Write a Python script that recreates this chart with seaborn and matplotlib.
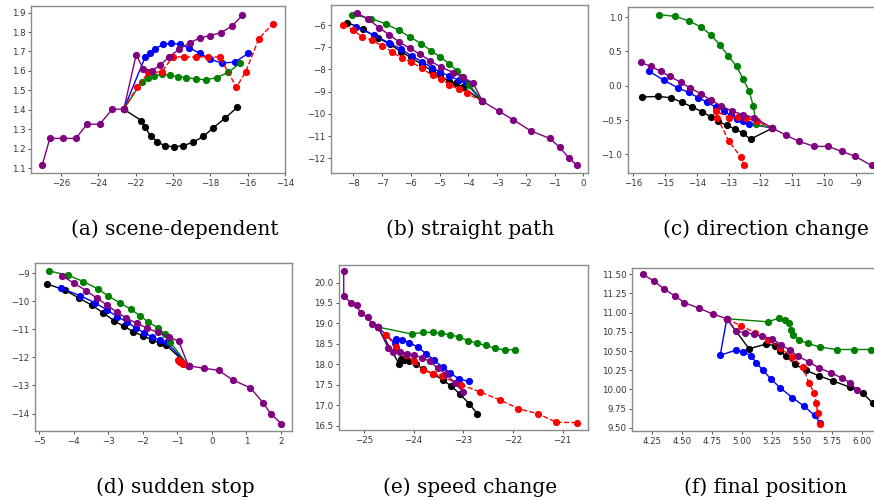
import numpy as np
import pandas as pd
import seaborn as sns
import matplotlib
matplotlib.use("Agg")
import matplotlib.pyplot as plt

# (a) scene-dependent
a_hist_x = [-27.0, -26.59, -25.91, -25.2, -24.6, -23.92, -23.25, -22.63]
a_hist_y = [1.116, 1.253, 1.253, 1.253, 1.326, 1.326, 1.403, 1.403]
a_gt_x = [-21.97, -21.58, -21.12, -20.67, -20.19, -19.66, -19.09, -18.54, -18.01, -17.42, -16.85, -16.28]
a_gt_y = [1.683, 1.609, 1.602, 1.631, 1.674, 1.712, 1.746, 1.770, 1.782, 1.797, 1.830, 1.886]
a_blue_x = [-21.49, -21.22, -20.96, -20.55, -20.10, -19.62, -19.13, -18.56, -18.01, -17.39, -16.69, -15.96]
a_blue_y = [1.671, 1.691, 1.713, 1.736, 1.742, 1.737, 1.718, 1.691, 1.660, 1.641, 1.645, 1.691]
a_green_x = [-21.67, -21.31, -20.99, -20.56, -20.17, -19.75, -19.29, -18.77, -18.24, -17.65, -17.05, -16.39]
a_green_y = [1.544, 1.566, 1.576, 1.583, 1.578, 1.571, 1.566, 1.559, 1.554, 1.566, 1.592, 1.640]
a_red_x = [-21.93, -21.31, -20.60, -20.01, -19.39, -18.77, -18.10, -17.49, -16.60, -16.11, -15.40, -14.65]
a_red_y = [1.516, 1.592, 1.595, 1.672, 1.672, 1.672, 1.672, 1.672, 1.516, 1.595, 1.766, 1.843]
a_black_x = [-21.70, -21.49, -21.20, -20.85, -20.44, -19.96, -19.48, -18.95, -18.38, -17.83, -17.21, -16.57]
a_black_y = [1.345, 1.311, 1.266, 1.237, 1.215, 1.210, 1.215, 1.232, 1.263, 1.308, 1.357, 1.412]

# (b) straight path
b_hist_x = [-0.22, -0.51, -0.82, -1.17, -1.82, -2.43, -2.92, -3.51]
b_hist_y = [-12.32, -11.97, -11.50, -11.10, -10.77, -10.27, -9.89, -9.43]
b_gt_x = [-3.84, -4.19, -4.52, -4.96, -5.32, -5.68, -6.03, -6.40, -6.75, -7.11, -7.48, -7.88]
b_gt_y = [-8.60, -8.36, -8.14, -7.89, -7.62, -7.32, -7.05, -6.77, -6.44, -6.12, -5.73, -5.47]
b_green_x = [-3.97, -4.21, -4.40, -4.67, -4.98, -5.29, -5.64, -6.03, -6.43, -6.87, -7.38, -8.05]
b_green_y = [-8.68, -8.33, -8.06, -7.74, -7.44, -7.16, -6.84, -6.54, -6.23, -5.95, -5.71, -5.53]
b_blue_x = [-4.09, -4.34, -4.66, -4.98, -5.27, -5.62, -5.96, -6.33, -6.77, -7.30, -7.92]
b_blue_y = [-8.60, -8.48, -8.30, -8.11, -7.92, -7.65, -7.40, -7.10, -6.80, -6.45, -6.08]
b_black_x = [-4.17, -4.43, -4.69, -4.97, -5.27, -5.62, -6.00, -6.35, -6.72, -7.13, -7.65, -8.21]
b_black_y = [-8.81, -8.63, -8.54, -8.26, -8.06, -7.77, -7.46, -7.20, -6.87, -6.59, -6.20, -5.89]
b_red_x = [-4.05, -4.34, -4.66, -4.96, -5.24, -5.62, -6.00, -6.32, -6.66, -7.01, -7.36, -7.71, -8.00, -8.35]
b_red_y = [-9.08, -8.89, -8.68, -8.42, -8.27, -7.95, -7.65, -7.50, -7.20, -6.93, -6.68, -6.53, -6.23, -6.00]

# (c) direction change
c_hist_x = [-8.50, -9.01, -9.43, -9.87, -10.30, -10.78, -11.20, -11.62]
c_hist_y = [-1.160, -1.029, -0.956, -0.883, -0.883, -0.811, -0.718, -0.617]
c_gt_x = [-12.19, -12.54, -12.90, -13.24, -13.57, -13.87, -14.21, -14.51, -14.85, -15.14, -15.45, -15.77]
c_gt_y = [-0.466, -0.422, -0.369, -0.291, -0.209, -0.117, -0.034, 0.049, 0.136, 0.209, 0.282, 0.340]
c_blue_x = [-12.35, -12.54, -12.73, -12.94, -13.15, -13.40, -13.67, -13.95, -14.26, -14.61, -15.03, -15.52]
c_blue_y = [-0.553, -0.515, -0.481, -0.432, -0.364, -0.311, -0.243, -0.175, -0.097, -0.029, 0.078, 0.214]
c_green_x = [-12.14, -12.22, -12.35, -12.54, -12.75, -13.01, -13.27, -13.56, -13.86, -14.25, -14.68, -15.19]
c_green_y = [-0.563, -0.301, -0.083, 0.097, 0.282, 0.432, 0.592, 0.738, 0.854, 0.942, 1.010, 1.034]
c_black_x = [-12.31, -12.56, -12.79, -13.05, -13.33, -13.57, -13.83, -14.14, -14.46, -14.81, -15.23, -15.72]
c_black_y = [-0.777, -0.689, -0.631, -0.578, -0.519, -0.451, -0.379, -0.311, -0.243, -0.175, -0.155, -0.165]
c_red_x = [-12.12, -12.46, -12.72, -12.98, -13.40, -13.36, -12.99, -12.62, -12.52]
c_red_y = [-0.519, -0.466, -0.456, -0.466, -0.369, -0.466, -0.806, -1.039, -1.160]

# (d) sudden stop
d_hist_x = [2.01, 1.70, 1.48, 1.11, 0.61, 0.19, -0.22, -0.68]
d_hist_y = [-14.36, -14.0, -13.61, -13.08, -12.81, -12.46, -12.39, -12.30]
d_gt_x = [-0.97, -1.26, -1.57, -1.89, -2.18, -2.48, -2.76, -3.05, -3.34, -3.65, -4.00, -4.34]
d_gt_y = [-11.42, -11.27, -11.11, -10.95, -10.79, -10.60, -10.39, -10.13, -9.89, -9.62, -9.36, -9.10]
d_green_x = [-1.21, -1.36, -1.57, -1.84, -2.08, -2.35, -2.68, -3.00, -3.31, -3.73, -4.16, -4.73]
d_green_y = [-11.46, -11.18, -10.94, -10.75, -10.52, -10.29, -10.05, -9.82, -9.56, -9.30, -9.08, -8.92]
d_blue_x = [-1.31, -1.52, -1.73, -1.96, -2.20, -2.45, -2.74, -3.05, -3.40, -3.83, -4.37]
d_blue_y = [-11.46, -11.39, -11.27, -11.13, -10.96, -10.75, -10.55, -10.31, -10.05, -9.80, -9.54]
d_black_x = [-1.33, -1.50, -1.73, -1.99, -2.28, -2.55, -2.84, -3.15, -3.47, -3.85, -4.26, -4.77]
d_black_y = [-11.56, -11.50, -11.38, -11.24, -11.08, -10.90, -10.69, -10.42, -10.15, -9.89, -9.61, -9.39]
d_red_x = [-0.80, -0.84, -0.88, -0.92, -0.96, -0.99]
d_red_y = [-12.25, -12.22, -12.19, -12.16, -12.13, -12.10]

# (e) speed change
e_hist_x = [-25.41, -25.41, -25.27, -25.15, -25.07, -24.92, -24.85, -24.72]
e_hist_y = [20.29, 19.68, 19.51, 19.44, 19.25, 19.15, 18.98, 18.91]
e_gt_x = [-24.51, -24.41, -24.28, -24.14, -24.00, -23.84, -23.67, -23.52, -23.35, -23.17, -23.01]
e_gt_y = [18.39, 18.31, 18.30, 18.26, 18.23, 18.16, 18.07, 17.90, 17.76, 17.54, 17.33]
e_green_x = [-24.04, -23.82, -23.62, -23.45, -23.27, -23.09, -22.91, -22.73, -22.55, -22.36, -22.16, -21.97]
e_green_y = [18.74, 18.78, 18.78, 18.76, 18.72, 18.67, 18.58, 18.52, 18.46, 18.39, 18.35, 18.36]
e_blue_x = [-24.38, -24.36, -24.23, -24.09, -23.92, -23.75, -23.59, -23.42, -23.26, -23.09, -22.89]
e_blue_y = [18.52, 18.62, 18.60, 18.53, 18.42, 18.26, 18.10, 17.93, 17.78, 17.64, 17.58]
e_black_x = [-24.29, -24.25, -24.20, -24.10, -23.96, -23.81, -23.61, -23.42, -23.24, -23.07, -22.88, -22.72]
e_black_y = [18.00, 18.12, 18.10, 18.08, 18.01, 17.88, 17.76, 17.62, 17.46, 17.27, 17.03, 16.79]
e_red_x = [-24.55, -24.36, -24.16, -24.00, -23.81, -23.61, -23.44, -23.05, -22.66, -22.27, -21.89, -21.50, -21.13, -20.72]
e_red_y = [18.72, 18.43, 18.23, 18.07, 17.86, 17.77, 17.70, 17.50, 17.32, 17.13, 16.91, 16.79, 16.58, 16.57]

# (f) final position
f_hist_x = [4.175, 4.27, 4.35, 4.44, 4.52, 4.64, 4.76, 4.875]
f_hist_y = [11.496, 11.41, 11.31, 11.22, 11.13, 11.06, 10.98, 10.92]
f_gt_x = [4.95, 5.03, 5.10, 5.17, 5.25, 5.325, 5.40, 5.47, 5.56, 5.64, 5.74, 5.83, 5.90, 5.96]
f_gt_y = [10.76, 10.74, 10.72, 10.69, 10.66, 10.585, 10.51, 10.43, 10.36, 10.28, 10.22, 10.15, 10.09, 9.99]
f_green_x = [5.22, 5.31, 5.36, 5.39, 5.41, 5.43, 5.48, 5.55, 5.65, 5.79, 5.93, 6.075]
f_green_y = [10.88, 10.93, 10.91, 10.86, 10.78, 10.71, 10.64, 10.60, 10.55, 10.52, 10.52, 10.52]
f_blue_x = [4.82, 4.95, 5.01, 5.075, 5.12, 5.175, 5.24, 5.32, 5.42, 5.52, 5.605, 5.65]
f_blue_y = [10.446, 10.51, 10.49, 10.44, 10.35, 10.25, 10.14, 10.02, 9.895, 9.78, 9.665, 9.57]
f_black_x = [5.06, 5.20, 5.28, 5.32, 5.37, 5.44, 5.53, 5.64, 5.76, 5.90, 6.01, 6.09]
f_black_y = [10.53, 10.59, 10.57, 10.50, 10.43, 10.33, 10.25, 10.18, 10.11, 10.03, 9.95, 9.82]
f_red_x = [4.99, 5.11, 5.22, 5.32, 5.42, 5.51, 5.56, 5.60, 5.62, 5.63, 5.65]
f_red_y = [10.83, 10.74, 10.64, 10.54, 10.42, 10.29, 10.08, 9.96, 9.83, 9.70, 9.556]

captions = ["(a) scene-dependent", "(b) straight path", "(c) direction change",
            "(d) sudden stop", "(e) speed change", "(f) final position"]

sns.set_style("white")

W, H = 874, 501
fig = plt.figure(figsize=(W / 100, H / 100), dpi=100)


def box(l, t, r, b):
    return [l / W, 1 - b / H, (r - l) / W, (b - t) / H]


def traj(ax, x, y, color, ls="-"):
    df = pd.DataFrame({"x": x, "y": y})
    sns.lineplot(data=df, x="x", y="y", sort=False, estimator=None, ax=ax,
                 color=color, linestyle=ls, linewidth=1.0, marker="o",
                 markersize=5.2, markeredgewidth=0)


def panel(rect, hx, hy, gx, gy, blk, blu, grn, red, xlim, ylim, xt, yt):
    ax = fig.add_axes(box(*rect))
    jx, jy = hx[-1], hy[-1]
    traj(ax, [jx] + blk[0], [jy] + blk[1], "black")
    traj(ax, [jx] + blu[0], [jy] + blu[1], "blue")
    traj(ax, [jx] + grn[0], [jy] + grn[1], "green")
    traj(ax, [jx] + red[0], [jy] + red[1], "red", "--")
    traj(ax, hx + gx, hy + gy, "purple")
    ax.set_xlim(*xlim)
    ax.set_ylim(*ylim)
    ax.set_xticks(xt)
    ax.set_yticks(yt)
    ax.set_xlabel("")
    ax.set_ylabel("")
    ax.tick_params(labelsize=6.2, length=2.5, width=0.6, colors="#333333", pad=1.5,
                   left=True, bottom=True)
    for s in ax.spines.values():
        s.set_color("#8a8a8a")
        s.set_linewidth(1.0)
    return ax


panel((31, 6, 285, 173), a_hist_x, a_hist_y, a_gt_x, a_gt_y,
      (a_black_x, a_black_y), (a_blue_x, a_blue_y), (a_green_x, a_green_y), (a_red_x, a_red_y),
      (-27.6, -14.06), (1.075, 1.934), np.arange(-26, -13, 2), np.arange(1.1, 1.95, 0.1))
panel((331, 5, 588, 173), b_hist_x, b_hist_y, b_gt_x, b_gt_y,
      (b_black_x, b_black_y), (b_blue_x, b_blue_y), (b_green_x, b_green_y), (b_red_x, b_red_y),
      (-8.78, 0.165), (-12.66, -5.10), np.arange(-8, 1, 1), np.arange(-12, -5, 1))
panel((628, 7, 882, 173), c_hist_x, c_hist_y, c_gt_x, c_gt_y,
      (c_black_x, c_black_y), (c_blue_x, c_blue_y), (c_green_x, c_green_y), (c_red_x, c_red_y),
      (-16.17, -8.17), (-1.27, 1.146), np.arange(-16, -8, 1), np.arange(-1.0, 1.01, 0.5))
panel((35, 263, 292, 431), d_hist_x, d_hist_y, d_gt_x, d_gt_y,
      (d_black_x, d_black_y), (d_blue_x, d_blue_y), (d_green_x, d_green_y), (d_red_x, d_red_y),
      (-5.13, 2.32), (-14.62, -8.64), np.arange(-5, 3, 1), np.arange(-14, -8, 1))
panel((339, 265, 588, 430), e_hist_x, e_hist_y, e_gt_x, e_gt_y,
      (e_black_x, e_black_y), (e_blue_x, e_blue_y), (e_green_x, e_green_y), (e_red_x, e_red_y),
      (-25.505, -20.49), (16.39, 20.43), np.arange(-25, -20, 1), np.arange(16.5, 20.01, 0.5))
panel((632, 268, 880, 431), f_hist_x, f_hist_y, f_gt_x, f_gt_y,
      (f_black_x, f_black_y), (f_blue_x, f_blue_y), (f_green_x, f_green_y), (f_red_x, f_red_y),
      (4.086, 6.15), (9.46, 11.58), np.arange(4.25, 6.01, 0.25), np.arange(9.5, 11.51, 0.25))

# captions under each panel
cx = [175, 470, 766]
cy = [229, 487]
for i, c in enumerate(captions):
    fig.text(cx[i % 3] / W, 1 - cy[i // 3] / H, c, ha="center", va="center",
             fontsize=14.5, family="DejaVu Serif", color="black")

fig.savefig("out.png", dpi=100)
